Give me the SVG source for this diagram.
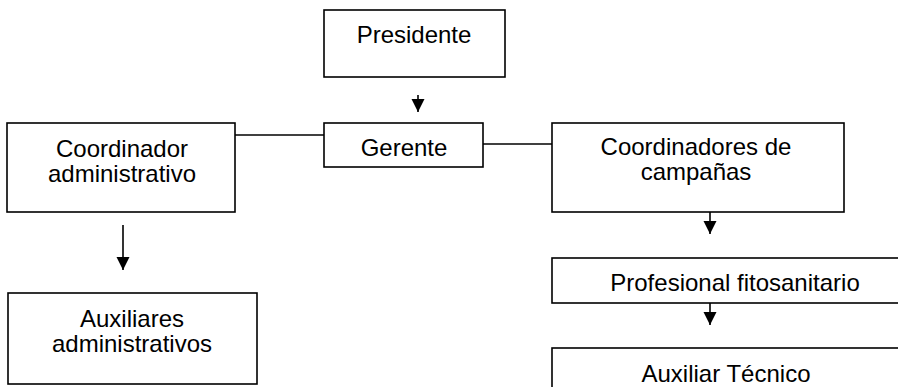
<svg xmlns="http://www.w3.org/2000/svg" width="898" height="387" viewBox="0 0 898 387">
<defs>
<style>
.box{fill:#fff;stroke:#000;stroke-width:1.6}
.lbl{font-family:"Liberation Sans",Arial,sans-serif;font-size:24px;fill:#000;text-anchor:middle}
.ln{stroke:#000;stroke-width:1.6;fill:none}
</style>
<marker id="ah" markerUnits="userSpaceOnUse" markerWidth="14" markerHeight="14" refX="13" refY="6.5" orient="auto">
<path d="M0,0 L13,6.5 L0,13 Z" fill="#000"/>
</marker>
</defs>
<rect width="898" height="387" fill="#fff"/>
<g id="presidente">
<rect class="box" x="324" y="10" width="181" height="67"/>
<text class="lbl" x="414" y="43">Presidente</text>
</g>
<g id="gerente">
<rect class="box" x="324" y="123" width="159" height="44"/>
<text class="lbl" x="404" y="156">Gerente</text>
</g>
<g id="coord-admin">
<rect class="box" x="7" y="123" width="228" height="89"/>
<text class="lbl" x="122" y="157">Coordinador</text>
<text class="lbl" x="122" y="182">administrativo</text>
</g>
<g id="aux-admin">
<rect class="box" x="8" y="293" width="249" height="91"/>
<text class="lbl" x="132" y="327">Auxiliares</text>
<text class="lbl" x="132" y="352">administrativos</text>
</g>
<g id="coord-camp">
<rect class="box" x="552" y="123" width="292" height="89"/>
<text class="lbl" x="696" y="155">Coordinadores de</text>
<text class="lbl" x="696" y="180">campañas</text>
</g>
<g id="profesional">
<rect class="box" x="552" y="258" width="366" height="45"/>
<text class="lbl" x="735" y="291">Profesional fitosanitario</text>
</g>
<g id="aux-tecnico">
<rect class="box" x="552" y="348" width="366" height="60"/>
<text class="lbl" x="726" y="382">Auxiliar Técnico</text>
</g>
<g id="connectors">
<line class="ln" x1="418" y1="95" x2="418" y2="112" marker-end="url(#ah)"/>
<line class="ln" x1="235" y1="135" x2="324" y2="135"/>
<line class="ln" x1="483" y1="144" x2="552" y2="144"/>
<line class="ln" x1="123" y1="225" x2="123" y2="270" marker-end="url(#ah)"/>
<line class="ln" x1="710" y1="212" x2="710" y2="234" marker-end="url(#ah)"/>
<line class="ln" x1="710" y1="303" x2="710" y2="325" marker-end="url(#ah)"/>
</g>
</svg>
